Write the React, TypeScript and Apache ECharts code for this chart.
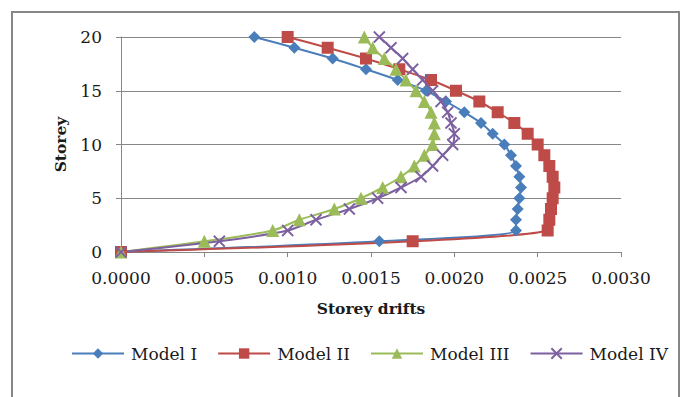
import React, { useEffect, useRef } from "react";
import * as echarts from "echarts";

const storeys = [0, 1, 2, 3, 4, 5, 6, 7, 8, 9, 10, 11, 12, 13, 14, 15, 16, 17, 18, 19, 20];
const modelI = [0, 0.00155, 0.00237, 0.00237, 0.00238, 0.00239, 0.0024, 0.00239, 0.00237, 0.00234, 0.0023, 0.00223, 0.00216, 0.00206, 0.00195, 0.00183, 0.00166, 0.00147, 0.00127, 0.00104, 0.0008];
const modelII = [0, 0.00175, 0.00256, 0.00257, 0.00258, 0.00259, 0.0026, 0.00259, 0.00257, 0.00254, 0.0025, 0.00244, 0.00236, 0.00226, 0.00215, 0.00201, 0.00186, 0.00167, 0.00147, 0.00124, 0.001];
const modelIII = [0, 0.0005, 0.00091, 0.00107, 0.00128, 0.00144, 0.00157, 0.00168, 0.00176, 0.00182, 0.00187, 0.00188, 0.00188, 0.00186, 0.00182, 0.00177, 0.00171, 0.00165, 0.00158, 0.00151, 0.00146];
const modelIV = [0, 0.00059, 0.001, 0.00117, 0.00137, 0.00154, 0.00168, 0.0018, 0.00187, 0.00193, 0.00199, 0.002, 0.00198, 0.00196, 0.00192, 0.00187, 0.00181, 0.00175, 0.00169, 0.00162, 0.00155];
const seriesNames = ["Model I", "Model II", "Model III", "Model IV"];
const xTitle = "Storey drifts";
const yTitle = "Storey";

const FONT = "DejaVu Serif";
const GRAY = "#868686";

export default function App() {
  const ref = useRef<HTMLDivElement>(null);
  useEffect(() => {
    document.body.style.margin = "0";
    const chart = echarts.init(ref.current!, null, { renderer: "svg" });
    const pairs = (xs: number[]) => xs.map((x, i) => [x, storeys[i]]);
    const cfg = [
      { data: modelI, color: "#4A7EBB", symbol: "diamond", size: 12 },
      { data: modelII, color: "#BE4B48", symbol: "rect", size: 12 },
      { data: modelIII, color: "#9BBB59", symbol: "triangle", size: 13 },
      { data: modelIV, color: "#7D60A0", symbol: "path://M0,0L10,10M10,0L0,10", size: 11 },
    ];
    chart.setOption({
      animation: false,
      backgroundColor: "#ffffff",
      graphic: [
        {
          type: "rect",
          shape: { x: 12, y: 12, width: 667, height: 420 },
          style: { fill: "none", stroke: GRAY, lineWidth: 2 },
          silent: true,
        },
      ],
      grid: { left: 121, top: 37, width: 500, height: 215 },
      xAxis: {
        type: "value",
        min: 0,
        max: 0.003,
        interval: 0.0005,
        name: xTitle,
        nameLocation: "middle",
        nameGap: 48,
        nameTextStyle: { fontFamily: FONT, fontWeight: "bold", fontSize: 15.5, color: "#1a1a1a" },
        axisLine: { show: true, lineStyle: { color: GRAY, width: 1 } },
        axisTick: { show: true, length: 5, lineStyle: { color: GRAY } },
        splitLine: { show: false },
        axisLabel: {
          fontFamily: FONT,
          fontSize: 17,
          color: "#1a1a1a",
          margin: 17,
          formatter: (v: number) => v.toFixed(4),
        },
      },
      yAxis: {
        type: "value",
        min: 0,
        max: 20,
        interval: 5,
        name: yTitle,
        nameLocation: "middle",
        nameGap: 53,
        nameRotate: 90,
        nameTextStyle: { fontFamily: FONT, fontWeight: "bold", fontSize: 15.5, color: "#1a1a1a" },
        axisLine: { show: true, lineStyle: { color: GRAY, width: 1 } },
        axisTick: { show: true, length: 5, lineStyle: { color: GRAY } },
        splitLine: { show: true, lineStyle: { color: GRAY, width: 1 } },
        axisLabel: { fontFamily: FONT, fontSize: 17, color: "#1a1a1a", margin: 19 },
      },
      legend: {
        left: 66,
        top: 340,
        itemWidth: 52,
        itemHeight: 13,
        itemGap: 20,
        textStyle: { fontFamily: FONT, fontSize: 17, color: "#1a1a1a", padding: [0, 0, 0, 2] },
        data: seriesNames,
      },
      series: cfg.map((c, i) => ({
        name: seriesNames[i],
        type: "line",
        data: pairs(c.data),
        smooth: 0.3,
        symbol: c.symbol,
        symbolSize: c.size,
        showAllSymbol: true,
        lineStyle: { color: c.color, width: 2 },
        itemStyle: { color: c.color, borderColor: c.color, borderWidth: i === 3 ? 1.8 : 0 },
        emphasis: { disabled: true },
      })),
    });
    return () => chart.dispose();
  }, []);
  return <div ref={ref} style={{ width: 684, height: 397 }} />;
}
